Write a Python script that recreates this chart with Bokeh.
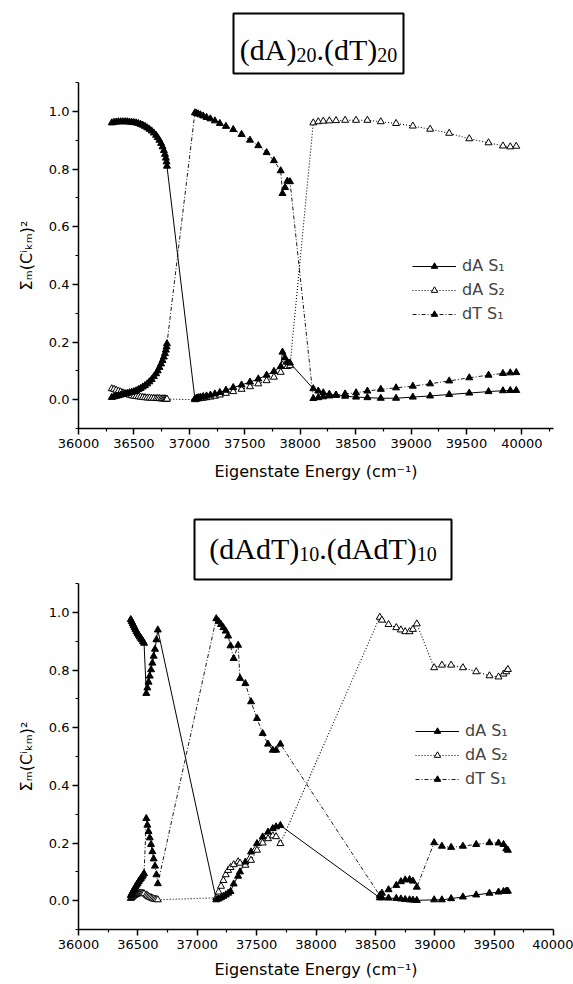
from bokeh.plotting import figure
from bokeh.layouts import column
from bokeh.models import FixedTicker, Range1d, Legend, LegendItem, PrintfTickFormatter
from bokeh.core.properties import value
from bokeh.embed import file_html
from bokeh.resources import INLINE

# ---------------- data: (dA)20.(dT)20 ----------------
top_energy = [36300, 36320, 36340, 36360, 36380, 36400, 36420, 36440, 36460, 36480,
              36500, 36520, 36540, 36560, 36580, 36600, 36620, 36640, 36660, 36680,
              36700, 36715, 36730, 36745, 36758, 36770, 36780, 36788, 36794, 36798,
              37050, 37065, 37080, 37100, 37125, 37155, 37190, 37230, 37275, 37330,
              37396, 37471, 37547, 37622, 37697, 37763, 37824, 37840, 37863, 37884, 37908,
              38118, 38163, 38208, 38263, 38323, 38405, 38504, 38606, 38727, 38865,
              39016, 39172, 39344, 39525, 39699, 39829, 39895, 39949]
top_dA_S1 = [0.960, 0.962, 0.963, 0.964, 0.964, 0.964, 0.964, 0.964, 0.963, 0.962,
             0.961, 0.960, 0.958, 0.955, 0.952, 0.948, 0.943, 0.938, 0.932, 0.925,
             0.917, 0.909, 0.900, 0.889, 0.877, 0.864, 0.851, 0.838, 0.825, 0.810,
             0.003, 0.005, 0.007, 0.009, 0.011, 0.013, 0.016, 0.020, 0.025, 0.033,
             0.042, 0.051, 0.061, 0.072, 0.085, 0.098, 0.115, 0.165, 0.145, 0.130, 0.127,
             0.038, 0.030, 0.024, 0.019, 0.015, 0.012, 0.009, 0.007, 0.005, 0.005,
             0.009, 0.013, 0.018, 0.023, 0.028, 0.031, 0.032, 0.032]
top_dA_S2 = [0.038, 0.036, 0.033, 0.030, 0.027, 0.024, 0.021, 0.018, 0.016, 0.014,
             0.012, 0.011, 0.010, 0.009, 0.008, 0.007, 0.006, 0.006, 0.005, 0.005,
             0.004, 0.004, 0.004, 0.003, 0.003, 0.003, 0.003, 0.002, 0.002, 0.002,
             0.000, 0.002, 0.003, 0.004, 0.005, 0.007, 0.009, 0.012, 0.016, 0.022,
             0.028, 0.036, 0.045, 0.055, 0.066, 0.078, 0.095, 0.120, 0.120, 0.115, 0.118,
             0.960, 0.964, 0.966, 0.967, 0.968, 0.969, 0.969, 0.969, 0.964, 0.958,
             0.949, 0.938, 0.924, 0.905, 0.891, 0.880, 0.877, 0.879]
top_dT_S1 = [0.008, 0.010, 0.012, 0.014, 0.016, 0.018, 0.020, 0.022, 0.024, 0.026,
             0.028, 0.031, 0.035, 0.039, 0.044, 0.049, 0.055, 0.062, 0.070, 0.080,
             0.090, 0.100, 0.112, 0.124, 0.136, 0.148, 0.160, 0.172, 0.183, 0.194,
             0.995, 0.993, 0.991, 0.988, 0.984, 0.979, 0.974, 0.967, 0.958, 0.948,
             0.937, 0.920, 0.900, 0.881, 0.857, 0.829, 0.794, 0.715, 0.736, 0.758, 0.756,
             0.004, 0.007, 0.010, 0.013, 0.016, 0.020, 0.024, 0.030, 0.036, 0.041,
             0.047, 0.055, 0.065, 0.076, 0.085, 0.091, 0.093, 0.094]

# ---------------- data: (dAdT)10.(dAdT)10 ----------------
bot_energy = [36440, 36448, 36456, 36464, 36472, 36480, 36489, 36498, 36507, 36516,
              36525, 36534, 36543, 36552, 36571, 36580, 36590, 36600, 36611, 36622,
              36633, 36644, 36656, 36668,
              37160, 37180, 37200, 37220, 37240, 37260, 37280, 37307, 37344, 37360,
              37405, 37453, 37503, 37551, 37596, 37636, 37664, 37700,
              38537, 38555, 38611, 38676, 38715, 38751, 38788, 38816, 38849, 38995,
              39060, 39138, 39237, 39349, 39461, 39537, 39579, 39602, 39616]
bot_dA_S1 = [0.975, 0.968, 0.961, 0.954, 0.947, 0.940, 0.933, 0.927, 0.921, 0.915,
             0.910, 0.905, 0.899, 0.893, 0.719, 0.738, 0.758, 0.779, 0.801, 0.824,
             0.848, 0.872, 0.905, 0.939,
             0.003, 0.006, 0.010, 0.015, 0.020, 0.026, 0.032, 0.058, 0.085, 0.100,
             0.134, 0.169, 0.198, 0.221, 0.238, 0.250, 0.256, 0.261,
             0.010, 0.010, 0.009, 0.008, 0.006, 0.004, 0.003, 0.002, 0.001, 0.003,
             0.003, 0.007, 0.013, 0.020, 0.026, 0.030, 0.032, 0.033, 0.033]
bot_dA_S2 = [0.008, 0.011, 0.014, 0.017, 0.019, 0.021, 0.023, 0.024, 0.025, 0.025,
             0.026, 0.026, 0.025, 0.024, 0.020, 0.017, 0.014, 0.012, 0.010, 0.008,
             0.006, 0.005, 0.004, 0.003,
             0.010, 0.030, 0.050, 0.070, 0.090, 0.105, 0.115, 0.125, 0.135, 0.130,
             0.123, 0.140, 0.175, 0.200, 0.215, 0.225, 0.222, 0.198,
             0.983, 0.973, 0.958, 0.947, 0.939, 0.933, 0.933, 0.941, 0.960, 0.808,
             0.817, 0.817, 0.808, 0.794, 0.780, 0.776, 0.786, 0.794, 0.802]
bot_dT_S1 = [0.018, 0.024, 0.030, 0.036, 0.042, 0.048, 0.054, 0.060, 0.066, 0.072,
             0.077, 0.082, 0.088, 0.094, 0.285, 0.262, 0.240, 0.218, 0.195, 0.170,
             0.145, 0.120, 0.090, 0.059,
             0.978, 0.968, 0.958, 0.947, 0.935, 0.918, 0.884, 0.840, 0.886, 0.771,
             0.753, 0.690, 0.632, 0.580, 0.543, 0.522, 0.522, 0.543,
             0.018, 0.026, 0.038, 0.053, 0.066, 0.072, 0.073, 0.068, 0.047, 0.201,
             0.189, 0.185, 0.189, 0.195, 0.201, 0.200, 0.195, 0.180, 0.175]

# ---------------- ticks / labels ----------------
x_major_ticks = [36000, 36500, 37000, 37500, 38000, 38500, 39000, 39500, 40000]
top_x_minor = [36250, 36750, 37250, 37750, 38250, 38750, 39250, 39750, 40250]
bot_x_minor = [36250, 36750, 37250, 37750, 38250, 38750, 39250, 39750]
y_major_ticks = [0.0, 0.2, 0.4, 0.6, 0.8, 1.0]
y_minor_ticks = [-0.1, 0.1, 0.3, 0.5, 0.7, 0.9, 1.1]
series_labels = ["dA S\u2081", "dA S\u2082", "dT S\u2081"]
x_label = "Eigenstate Energy (cm\u207b\u00b9)"
y_label = "\u03a3\u2098(C\u2071\u2096\u2098)\u00b2"
top_title = [("(dA)", False), ("20", True), (".(dT)", False), ("20", True)]
bot_title = [("(dAdT)", False), ("10", True), (".(dAdT)", False), ("10", True)]

W = 573
LEFT, RIGHT = 78, 20          # same side borders for every figure in the column
SANS = "DejaVu Sans"
SERIF = "Liberation Serif"
TIMES_W = {'(': 0.333, ')': 0.333, 'd': 0.5, 'A': 0.722, 'T': 0.611, '.': 0.25,
           '0': 0.5, '1': 0.5, '2': 0.5}
MAIN_FS, SUB_FS = 30, 20


def title_fig(height, box, base_main, base_sub, parts):
    # ranges in page pixels: x from LEFT to W-RIGHT, y downward
    p = figure(width=W, height=height, x_range=Range1d(LEFT, W - RIGHT),
               y_range=Range1d(height, 0),
               x_axis_type=None, y_axis_type=None, toolbar_location=None,
               output_backend="svg", title=None,
               min_border_left=LEFT, min_border_right=RIGHT,
               min_border_top=0, min_border_bottom=0)
    p.grid.visible = False
    p.outline_line_color = None
    x0, x1, y0, y1 = box
    p.quad(left=[x0], right=[x1], top=[y0], bottom=[y1], fill_color=None,
           line_color="black", line_width=2)
    widths = [sum(TIMES_W.get(c, 0.5) for c in t) * (SUB_FS if s else MAIN_FS) for t, s in parts]
    x = (x0 + x1) / 2 - sum(widths) / 2
    for (t, s), w in zip(parts, widths):
        p.text(x=[x], y=[base_sub if s else base_main], text=[t],
               text_font=value(SERIF), text_font_size=f"{SUB_FS if s else MAIN_FS}px",
               text_baseline="alphabetic", text_align="left", text_color="black")
        x += w
    return p


def data_fig(height, xr, x_minor, bborder, E, s1, s2, t1, legend_loc, xl_standoff):
    p = figure(width=W, height=height, x_range=Range1d(*xr), y_range=Range1d(-0.1, 1.1),
               toolbar_location=None, output_backend="svg", title=None,
               min_border_left=LEFT, min_border_right=RIGHT, min_border_top=0,
               min_border_bottom=bborder)
    p.grid.visible = False
    p.outline_line_color = None

    r1l = p.line(E, s1, line_color="black", line_width=1)
    r2l = p.line(E, s2, line_color="black", line_width=1.1, line_dash="1 2")
    r3l = p.line(E, t1, line_color="black", line_width=0.9, line_dash="4 2 1 2")
    r2m = p.scatter(E, s2, marker="triangle", size=7, fill_color="white", line_color="black", line_width=1)
    r1m = p.scatter(E, s1, marker="triangle", size=7, fill_color="black", line_color="black")
    r3m = p.scatter(E, t1, marker="triangle", size=7, fill_color="black", line_color="black")

    legend = Legend(items=[LegendItem(label=series_labels[0], renderers=[r1l, r1m]),
                           LegendItem(label=series_labels[1], renderers=[r2l, r2m]),
                           LegendItem(label=series_labels[2], renderers=[r3l, r3m])],
                    location=legend_loc, padding=0, margin=0, spacing=5,
                    glyph_width=44, glyph_height=16, label_standoff=6, label_height=18,
                    label_text_font=SANS, label_text_font_size="16px",
                    background_fill_alpha=0, border_line_color=None)
    p.add_layout(legend)

    xa = p.xaxis[0]
    xa.ticker = FixedTicker(ticks=x_major_ticks, minor_ticks=x_minor)
    xa.formatter = PrintfTickFormatter(format="%d")
    ya = p.yaxis[0]
    ya.ticker = FixedTicker(ticks=y_major_ticks, minor_ticks=y_minor_ticks)
    ya.formatter = PrintfTickFormatter(format="%.1f")
    for ax in (xa, ya):
        ax.axis_line_width = 1.5
        ax.major_tick_line_width = 1.5
        ax.minor_tick_line_width = 1.2
        ax.major_tick_out = 6
        ax.major_tick_in = 0
        ax.minor_tick_out = 3
        ax.minor_tick_in = 0
        ax.major_label_text_font = SANS
        ax.major_label_text_font_size = "13px"
        ax.major_label_text_color = "black"
        ax.axis_label_text_font = SANS
        ax.axis_label_text_font_size = "16px"
        ax.axis_label_text_font_style = "normal"
        ax.axis_label_text_color = "black"
    xa.axis_label = x_label
    xa.major_label_standoff = 4
    xa.axis_label_standoff = xl_standoff
    ya.axis_label = y_label
    ya.major_label_standoff = 3
    ya.axis_label_standoff = 10
    return p


t1 = title_fig(82, (233, 403, 13, 73), 49, 54, top_title)
p1 = data_fig(410, (36000, 40285), top_x_minor, 64,
              top_energy, top_dA_S1, top_dA_S2, top_dT_S1, (334, 105), 11)
t2 = title_fig(91, (194, 451, 27, 87), 56, 61, bot_title)
p2 = data_fig(401, (36000, 40000), bot_x_minor, 55,
              bot_energy, bot_dA_S1, bot_dA_S2, bot_dT_S1, (337, 141), 8)

layout = column(t1, p1, t2, p2, spacing=0)
open("out.html", "w").write(file_html(layout, INLINE))
